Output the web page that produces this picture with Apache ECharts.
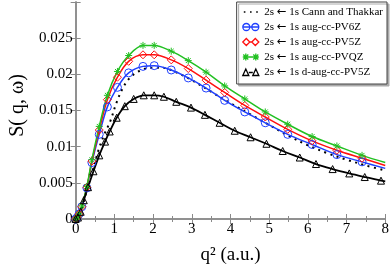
<!DOCTYPE html>
<html>
<head>
<meta charset="utf-8">
<script src="https://cdn.jsdelivr.net/npm/echarts@6/dist/echarts.min.js"></script>
<style>html,body{margin:0;padding:0;background:#fff}#c{width:392px;height:270px}</style>
</head>
<body>
<div id="c"></div>
<script>
// x positions for the basis-set series markers (q^2, a.u.)
const xBasis = [0, 0.04, 0.09, 0.16, 0.29, 0.42, 0.61, 0.82, 1.08, 1.37, 1.74, 2.03, 2.47, 2.91, 3.37, 3.85, 4.37, 4.9, 5.48, 6.11, 6.75, 7.4, 8];
const yPV6Z = [0, 0.0002, 0.0007, 0.0017, 0.0043, 0.0078, 0.0117, 0.0155, 0.0182, 0.0202, 0.0211, 0.0212, 0.0206, 0.0195, 0.0181, 0.0164, 0.0148, 0.0133, 0.0117, 0.0103, 0.0089, 0.0079, 0.0070];
const yPV5Z = [0, 0.0002, 0.0007, 0.0017, 0.0044, 0.0080, 0.0123, 0.0165, 0.0196, 0.0218, 0.0227, 0.0227, 0.0220, 0.0208, 0.0192, 0.0175, 0.0157, 0.0141, 0.0124, 0.0108, 0.0095, 0.0084, 0.0074];
const yPVQZ = [0, 0.0002, 0.0007, 0.0018, 0.0045, 0.0082, 0.0128, 0.0171, 0.0204, 0.0226, 0.0240, 0.0240, 0.0232, 0.0219, 0.0203, 0.0184, 0.0166, 0.0148, 0.0131, 0.0114, 0.0101, 0.0088, 0.0078];

const xDaug = [0, 0.06, 0.13, 0.21, 0.32, 0.46, 0.61, 0.76, 0.88, 1.06, 1.27, 1.5, 1.76, 2.03, 2.28, 2.6, 2.98, 3.34, 3.72, 4.11, 4.52, 4.93, 5.35, 5.79, 6.21, 6.64, 7.07, 7.47, 7.89, 8];
const yDaug = [0, 0.0002, 0.0010, 0.0026, 0.0044, 0.0066, 0.0088, 0.0107, 0.0121, 0.0140, 0.0156, 0.0166, 0.0171, 0.0171, 0.0169, 0.0162, 0.0154, 0.0144, 0.0133, 0.0122, 0.0113, 0.0104, 0.0094, 0.0085, 0.0076, 0.0069, 0.0063, 0.0058, 0.0053, 0.0052];

const xCann = [0, 0.1, 0.2, 0.3, 0.45, 0.6, 0.75, 0.9, 1.05, 1.2, 1.35, 1.5, 1.75, 2.0, 2.25, 2.5, 3, 3.5, 4, 4.5, 5, 5.5, 6, 6.5, 7, 7.5, 8];
const yCann = [0, 0.0006, 0.0022, 0.0042, 0.0069, 0.0097, 0.0118, 0.0136, 0.0160, 0.0179, 0.0192, 0.0200, 0.0207, 0.0209, 0.0209, 0.0205, 0.0192, 0.0176, 0.0160, 0.0145, 0.0130, 0.0115, 0.0102, 0.0091, 0.0082, 0.0074, 0.0067];

const xTicks = [0, 1, 2, 3, 4, 5, 6, 7, 8];
const yTickLabels = ['0', '0.005', '0.01', '0.015', '0.02', '0.025'];

const names = [
  '2s \u2190 1s Cann and Thakkar',
  '2s \u2190 1s aug-cc-PV6Z',
  '2s \u2190 1s aug-cc-PV5Z',
  '2s \u2190 1s aug-cc-PVQZ',
  '2s \u2190 1s d-aug-cc-PV5Z'
];
const colors = ['#000000', '#2040ff', '#ff1010', '#22c022', '#000000'];

function pairs(xs, ys, lastNoSymbol) {
  return xs.map((x, i) => {
    if (lastNoSymbol && i === xs.length - 1) return {value: [x, ys[i]], symbol: 'none'};
    return [x, ys[i]];
  });
}

const FONT = 'Liberation Serif';
const frame = '#8a8a8a';
const star = 'path://M5,0 L5,10 M0,5 L10,5 M1.5,1.5 L8.5,8.5 M8.5,1.5 L1.5,8.5';

// legend icons (line + marker at both ends), in a 17x8 box
const anchor = 'M0,0 M17,8 ';
const legendIcons = [
  'path://' + anchor + 'M1.5,3.2h1.6v1.6h-1.6z M7.7,3.2h1.6v1.6h-1.6z M13.9,3.2h1.6v1.6h-1.6z',
  'path://' + anchor + 'M0.5,4 A3.5,3.5 0 1,0 7.5,4 A3.5,3.5 0 1,0 0.5,4 Z M0.5,4 L16.5,4 M9.5,4 A3.5,3.5 0 1,0 16.5,4 A3.5,3.5 0 1,0 9.5,4 Z',
  'path://' + anchor + 'M0.5,4 L4,0.5 L7.5,4 L4,7.5 Z M7.5,4 L9.5,4 M9.5,4 L13,0.5 L16.5,4 L13,7.5 Z',
  'path://' + anchor + 'M3.5,0.5 L3.5,7.5 M0.5,4 L16.5,4 M1,1.5 L6,6.5 M6,1.5 L1,6.5 M13.5,0.5 L13.5,7.5 M11,1.5 L16,6.5 M16,1.5 L11,6.5',
  'path://' + anchor + 'M0.5,7.5 L3.5,1 L6.5,7.5 Z M6.5,4.5 L10.5,4.5 M10.5,7.5 L13.5,1 L16.5,7.5 Z'
];

function markerSeries(name, data, color, symbol, size, lw) {
  return {
    name, type: 'line', data, smooth: 0.35, symbol, symbolSize: size,
    lineStyle: {color, width: lw},
    itemStyle: {color: 'rgba(255,255,255,0)', borderColor: color, borderWidth: 1},
    z: 3
  };
}

const chart = echarts.init(document.getElementById('c'), null, {renderer: 'canvas'});
chart.setOption({
  animation: false,
  backgroundColor: '#fff',
  grid: {left: 63, right: 5, top: 2, bottom: 44},
  legend: {
    orient: 'vertical', right: 5, top: 2,
    padding: [4, 4, 6, 5],
    itemGap: 3, itemWidth: 17, itemHeight: 8,
    backgroundColor: '#fff', borderColor: '#444', borderWidth: 1,
    shadowColor: '#aaa', shadowOffsetX: 2, shadowOffsetY: 2, shadowBlur: 0,
    textStyle: {fontFamily: FONT, fontSize: 11, color: '#000',
      rich: {a: {fontFamily: 'DejaVu Sans', fontSize: 11.5, color: '#000'}}},
    formatter: n => n.replace('\u2190', '{a|\u2190}'),
    data: names.map((n, i) => ({
      name: n, icon: legendIcons[i],
      itemStyle: i === 0
        ? {color: '#000', borderColor: '#000', borderWidth: 0}
        : {color: 'rgba(255,255,255,0)', borderColor: colors[i], borderWidth: 1.3}
    }))
  },
  xAxis: [{
    type: 'value', min: 0, max: 8, interval: 1,
    name: 'q\u00b2 (a.u.)', nameLocation: 'middle', nameGap: 27,
    nameTextStyle: {fontFamily: FONT, fontSize: 19, color: '#000'},
    axisLine: {show: true, lineStyle: {color: frame, width: 1.5}},
    axisTick: {show: true, inside: true, length: 5, lineStyle: {color: frame}},
    minorTick: {show: true, splitNumber: 2, length: 3, lineStyle: {color: frame}},
    axisLabel: {fontFamily: FONT, fontSize: 15, color: '#000', margin: 3,
      formatter: v => xTicks.includes(v) ? String(v) : ''},
    splitLine: {show: false}
  }, {
    type: 'value', min: 0, max: 8, interval: 1, position: 'top',
    axisLine: {show: true, lineStyle: {color: frame, width: 1.5}},
    axisTick: {show: true, inside: true, length: 5, lineStyle: {color: frame}},
    minorTick: {show: true, splitNumber: 2, length: 3, lineStyle: {color: frame}},
    axisLabel: {show: false}, splitLine: {show: false}
  }],
  yAxis: [{
    type: 'value', min: 0, max: 0.03, interval: 0.005,
    name: 'S( q, \u03c9)', nameLocation: 'middle', nameGap: 41,
    nameTextStyle: {fontFamily: FONT, fontSize: 20, color: '#000', padding: [0, 0, 0, 10]},
    axisLine: {show: true, lineStyle: {color: frame, width: 1.5}},
    axisTick: {show: true, inside: true, length: 5, lineStyle: {color: frame}},
    axisLabel: {fontFamily: FONT, fontSize: 15, color: '#000', margin: 3,
      formatter: v => { const i = Math.round(v / 0.005); return i < yTickLabels.length ? yTickLabels[i] : ''; }},
    splitLine: {show: false}
  }, {
    type: 'value', min: 0, max: 0.03, interval: 0.005, position: 'right',
    axisLine: {show: true, lineStyle: {color: frame, width: 1.5}},
    axisTick: {show: true, inside: true, length: 5, lineStyle: {color: frame}},
    axisLabel: {show: false}, splitLine: {show: false}
  }],
  series: [
    {
      name: names[0], type: 'line', data: pairs(xCann, yCann), smooth: 0.35, symbol: 'none',
      lineStyle: {color: '#000', width: 2, type: [2, 4.5]},
      itemStyle: {color: '#000'}, z: 2
    },
    markerSeries(names[1], pairs(xBasis, yPV6Z, true), colors[1], 'circle', 8, 1.5),
    markerSeries(names[2], pairs(xBasis, yPV5Z, true), colors[2], 'diamond', 8, 1.5),
    markerSeries(names[3], pairs(xBasis, yPVQZ, true), colors[3], star, 7, 1.5),
    markerSeries(names[4], pairs(xDaug, yDaug, true), colors[4], 'triangle', 7, 1.8)
  ]
});
</script>
</body>
</html>
